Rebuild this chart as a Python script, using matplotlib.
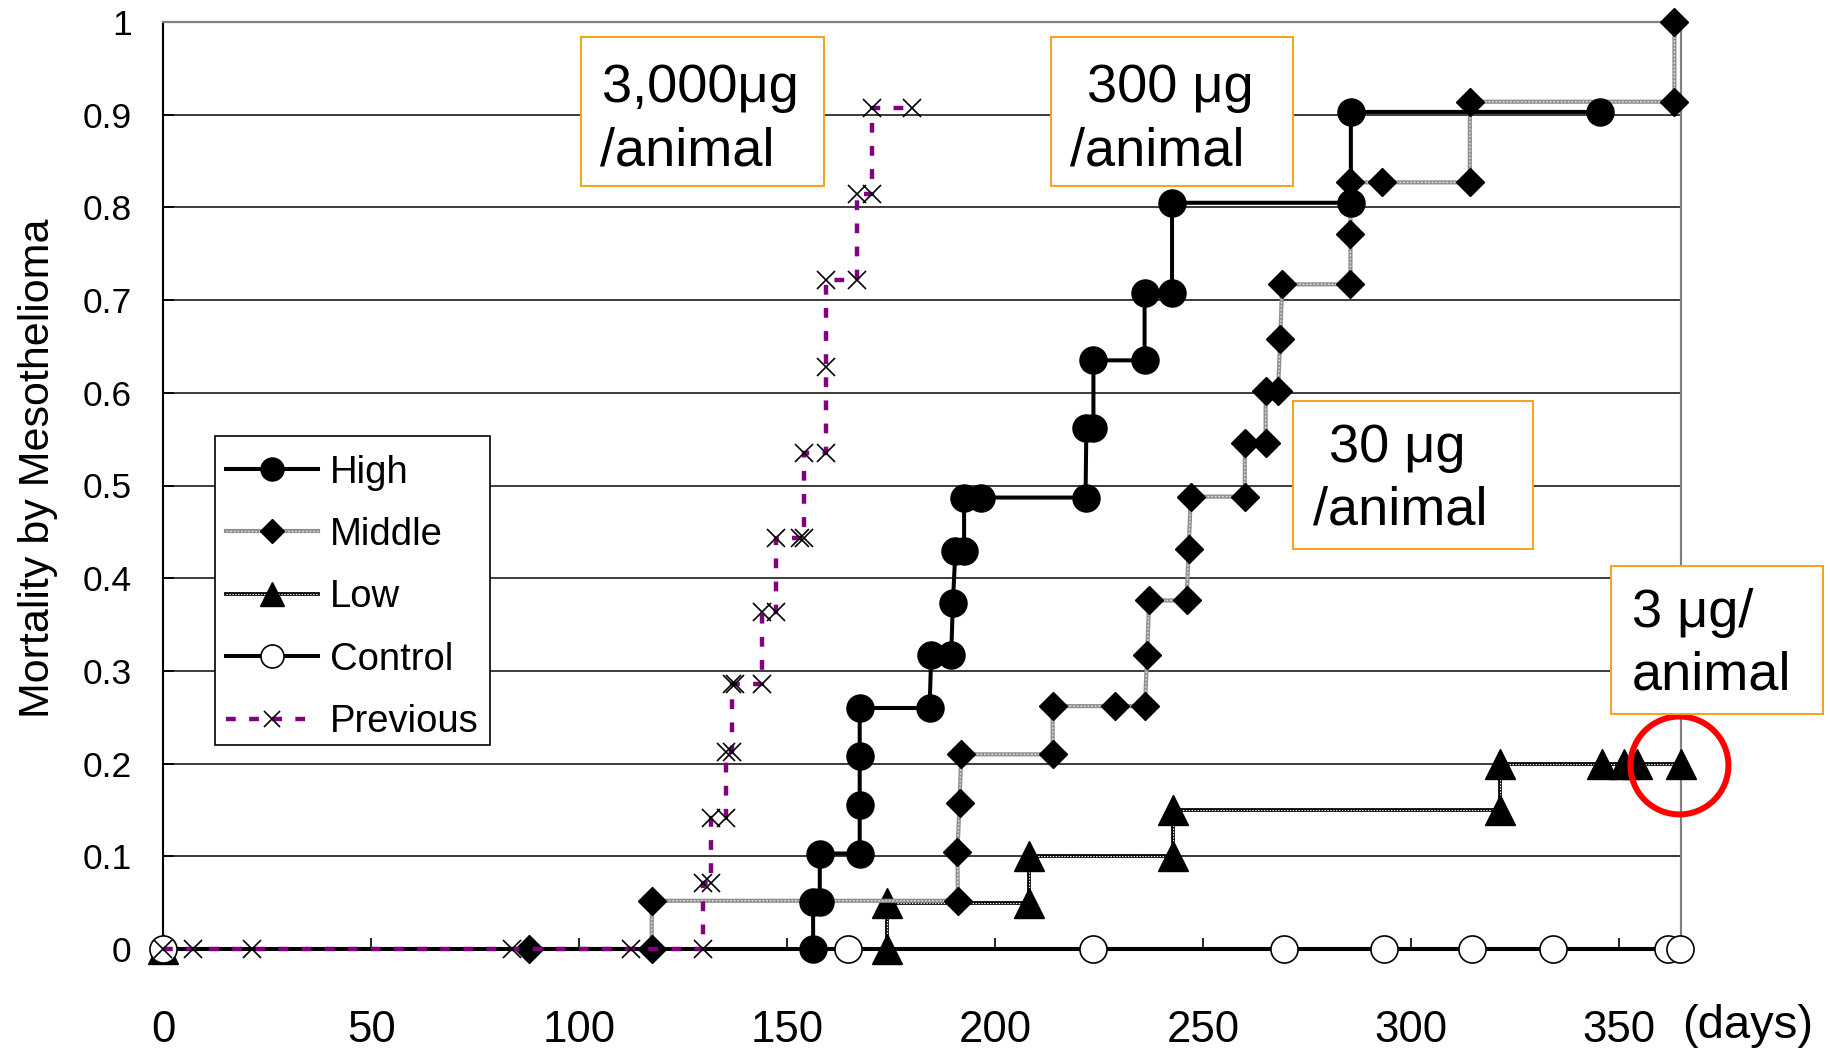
import matplotlib
matplotlib.use('Agg')
import matplotlib.pyplot as plt
from matplotlib.patches import Rectangle, Ellipse

plt.rcParams['font.family'] = ['Liberation Sans', 'DejaVu Sans']

# staircase vertices (day, mortality)
high_x = [156.2, 156.2, 157.8, 157.8, 167.4, 167.4, 167.4, 167.4, 184.2, 184.6, 189.4, 189.8, 190.4,
          192.5, 192.5, 196.6, 221.7, 221.9, 223.6, 223.6, 235.9, 235.9, 242.5, 242.5, 285.5, 285.5, 345.5]
high_y = [0, 0.051, 0.051, 0.103, 0.103, 0.155, 0.208, 0.26, 0.26, 0.317, 0.317, 0.373, 0.429,
          0.429, 0.487, 0.487, 0.487, 0.562, 0.562, 0.635, 0.635, 0.708, 0.708, 0.805, 0.805, 0.903, 0.903]

mid_x = [87.9, 117.4, 117.4, 191.0, 190.9, 191.4, 191.8, 213.8, 213.8, 228.9, 236.0, 236.5, 237.0, 246.0,
         246.5, 247.0, 260.0, 260.0, 265.0, 265.0, 268.0, 268.5, 269.0, 285.4, 285.4, 285.4, 293.1, 314.1,
         314.1, 363.3, 363.3]
mid_y = [0, 0, 0.052, 0.052, 0.105, 0.157, 0.21, 0.21, 0.262, 0.262, 0.262, 0.317, 0.376, 0.376,
         0.431, 0.488, 0.488, 0.546, 0.546, 0.602, 0.602, 0.658, 0.717, 0.717, 0.771, 0.827, 0.827, 0.827,
         0.914, 0.914, 1.0]

low_x = [0, 174.0, 174.0, 208.2, 208.2, 242.8, 242.8, 321.4, 321.4, 345.8, 351.1, 354.4, 365.0]
low_y = [0, 0, 0.05, 0.05, 0.1, 0.1, 0.15, 0.15, 0.2, 0.2, 0.2, 0.2, 0.2]

ctrl_x = [0, 164.5, 223.4, 269.4, 293.5, 314.7, 334.0, 361.7, 364.7]
ctrl_y = [0, 0, 0, 0, 0, 0, 0, 0, 0]

prev_x = [0, 7.2, 21.2, 83.7, 112.4, 129.7, 129.7, 131.6, 131.6, 135.2, 135.2, 136.6, 136.6, 137.5,
          143.9, 143.9, 147.2, 147.2, 153.1, 154.0, 154.0, 159.3, 159.3, 159.3, 166.7, 166.7, 170.3,
          170.3, 179.9]
prev_y = [0, 0, 0, 0, 0, 0, 0.071, 0.071, 0.141, 0.141, 0.212, 0.212, 0.286, 0.286,
          0.286, 0.364, 0.364, 0.443, 0.443, 0.443, 0.535, 0.535, 0.628, 0.722, 0.722, 0.814, 0.814,
          0.907, 0.907]

x_ticks = [0, 50, 100, 150, 200, 250, 300, 350]
y_ticks = [0, 0.1, 0.2, 0.3, 0.4, 0.5, 0.6, 0.7, 0.8, 0.9, 1.0]
y_labels = ['0', '0.1', '0.2', '0.3', '0.4', '0.5', '0.6', '0.7', '0.8', '0.9', '1']

W, H = 1831, 1060
fig = plt.figure(figsize=(W / 100, H / 100), dpi=100)
ax = fig.add_axes([163.5 / W, 1 - 949 / H, (1681.5 - 163.5) / W, (949 - 22) / H])
ax.set_xlim(0, 365)
ax.set_ylim(0, 1)

# Low: black line with white dotted core
lo1, = ax.plot(low_x, low_y, color='black', lw=2.7, clip_on=False, zorder=3)
lo2, = ax.plot(low_x, low_y, color='white', lw=0.8, ls=(0, (1.3, 1.3)), clip_on=False, zorder=3.1)
lo3, = ax.plot(low_x, low_y, ls='none', marker='^', ms=21, color='black', clip_on=False, zorder=3.2)

# Middle: grey textured line
mi1, = ax.plot(mid_x, mid_y, color='#909090', lw=3.0, clip_on=False, zorder=4)
mi2, = ax.plot(mid_x, mid_y, color='#e0e0e0', lw=1.0, ls=(0, (1.3, 1.3)), clip_on=False, zorder=4.1)
mi3, = ax.plot(mid_x, mid_y, ls='none', marker='D', ms=14.4, color='black', clip_on=False, zorder=4.2)

hi, = ax.plot(high_x, high_y, color='black', lw=2.9, marker='o', ms=19.5, clip_on=False, zorder=5)

co, = ax.plot(ctrl_x, ctrl_y, color='black', lw=2.9, marker='o', ms=19.5, mfc='white', mec='black',
              mew=1.2, clip_on=False, zorder=6)

pr1, = ax.plot(prev_x, prev_y, color='#800080', lw=3.2, ls=(0, (2.2, 3.0)), clip_on=False, zorder=7)
pr2, = ax.plot(prev_x, prev_y, ls='none', marker='x', ms=13, mew=1.2, color='black', clip_on=False, zorder=7.1)

ax.set_xticks(x_ticks)
ax.set_yticks(y_ticks)
ax.set_yticklabels(y_labels)
ax.tick_params(axis='x', direction='in', length=8, width=1.2, pad=44, labelsize=31.5)
ax.tick_params(axis='y', direction='in', length=8, width=1.2, pad=23, labelsize=25.5)
ax.yaxis.grid(True, color='#1a1a1a', lw=1.2)
ax.set_axisbelow(True)
for s in ['top', 'right']:
    ax.spines[s].set_color('#808080')
    ax.spines[s].set_linewidth(1.6)
for s in ['left', 'bottom']:
    ax.spines[s].set_color('black')
    ax.spines[s].set_linewidth(1.5)

# legend frame drawn separately so the entries can sit a little lower in it
ax.add_patch(Rectangle((0.0339, 0.2198), 0.2153 - 0.0339, 0.5533 - 0.2198, transform=ax.transAxes,
                       facecolor='white', edgecolor='black', lw=1.2, zorder=9.5))
leg = ax.legend([hi, (mi1, mi2, mi3), (lo1, lo2, lo3), co, (pr1, pr2)],
                ['High', 'Middle', 'Low', 'Control', 'Previous'],
                loc='upper left', bbox_to_anchor=(0.0339, 0.5458), borderaxespad=0,
                fontsize=27.5, frameon=False,
                handlelength=2.4, handletextpad=0.3, labelspacing=0.69, borderpad=0.3,
                markerscale=0.85)
leg.set_zorder(10)

# red ring around the last Low point
ring = Ellipse((364.5, 0.198), 2 * 49 / 4.158, 2 * 49 / 928, fill=False, ec='red', lw=4.3,
               clip_on=False, zorder=9)
ax.add_patch(ring)

fig.text(38 / W, 1 - 468 / H, 'Mortality by Mesothelioma', rotation=90, fontsize=31,
         ha='center', va='center')
fig.text(1682 / W, 1 - 1026 / H, '(days)', fontsize=34, ha='left', va='center')


def note_box(x0, y0, x1, y1, lines):
    fig.patches.append(Rectangle((x0 / W, 1 - y1 / H), (x1 - x0) / W, (y1 - y0) / H,
                                 transform=fig.transFigure, facecolor='white', edgecolor='#f7a11a',
                                 lw=1.4, zorder=20))
    for tx, ty, s in lines:
        fig.text(tx / W, 1 - ty / H, s, fontsize=39, ha='left', va='baseline', zorder=21)


note_box(581.5, 37.4, 824.4, 185.5, [(602.5, 101.7, '3,000μg'), (600, 165, '/animal')])
note_box(1051, 37.4, 1292.6, 185.7, [(1087, 102, '300 μg'), (1069.6, 165.5, '/animal')])
note_box(1293.3, 400.5, 1533, 548.8, [(1329.3, 461.7, '30 μg'), (1313.3, 525, '/animal')])
note_box(1610.8, 566.4, 1822.7, 713.5, [(1632.2, 627, '3 μg/'), (1632, 689, 'animal')])

fig.savefig('out.png', dpi=100)
